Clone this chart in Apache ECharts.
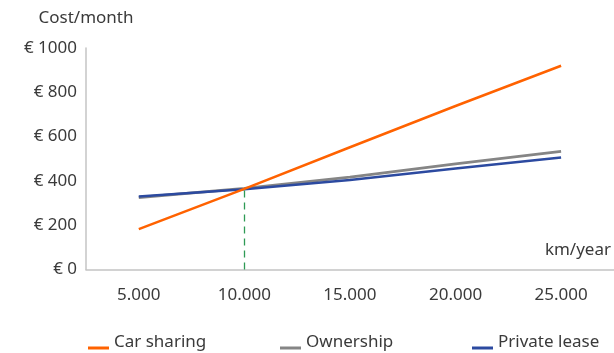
<!DOCTYPE html>
<html>
<head>
<meta charset="utf-8">
<script src="https://cdn.jsdelivr.net/npm/echarts@6/dist/echarts.min.js"></script>
<style>
html,body{margin:0;padding:0;background:#fff;}
#chart{width:614px;height:353px;}
</style>
</head>
<body>
<div id="chart"></div>
<script>
var categories = ['5.000', '10.000', '15.000', '20.000', '25.000'];
var carSharing = [182, 364, 552, 738, 920];
var ownership = [325, 366, 417, 477, 533];
var privateLease = [330, 362, 404, 456, 506];
var seriesNames = ['Car sharing', 'Ownership', 'Private lease'];
var crossoverKm = '10.000';
var crossoverCost = 365;
var yTicks = { min: 0, max: 1000, interval: 200 };

var FONT = '"Noto Sans", sans-serif';
var FS = 17;
var TXT = '#3a3a3a';
var LEG_ICON = 'path://M0,0 M0,11 L21,11 L21,14 L0,14 Z';
var legendLefts = [83, 275, 467];

function makeLegend(name, left) {
  return {
    data: [name],
    left: left,
    top: 329,
    itemWidth: 21,
    itemHeight: 14,
    itemTextGap: 13,
    icon: LEG_ICON,
    textStyle: { fontFamily: FONT, fontSize: FS, color: TXT }
  };
}

var chart = echarts.init(document.getElementById('chart'), null, { renderer: 'canvas' });
chart.setOption({
  animation: false,
  textStyle: { fontFamily: FONT },
  grid: { left: 86, right: 0, top: 48, bottom: 83.5, containLabel: false },
  legend: seriesNames.map(function (n, i) { return makeLegend(n, legendLefts[i]); }),
  xAxis: {
    type: 'category',
    data: categories,
    boundaryGap: true,
    axisLine: { lineStyle: { color: '#c4c4c4', width: 1.5 } },
    axisTick: { show: false },
    axisLabel: { fontFamily: FONT, fontSize: FS, color: TXT, margin: 17 },
    name: 'km/year',
    nameLocation: 'end',
    nameGap: -69,
    nameTextStyle: { fontFamily: FONT, fontSize: FS, color: TXT, align: 'left', verticalAlign: 'bottom', padding: [0, 0, 11, 0] }
  },
  yAxis: {
    type: 'value',
    min: yTicks.min,
    max: yTicks.max,
    interval: yTicks.interval,
    axisLine: { show: true, lineStyle: { color: '#c4c4c4', width: 1.5 } },
    axisTick: { show: false },
    splitLine: { show: false },
    axisLabel: { fontFamily: FONT, fontSize: FS, color: TXT, margin: 9, formatter: function (v) { return '€ ' + v; } },
    name: 'Cost/month',
    nameLocation: 'end',
    nameGap: 21,
    nameTextStyle: { fontFamily: FONT, fontSize: FS, color: TXT, align: 'center' }
  },
  series: [
    {
      name: seriesNames[0], type: 'line', data: carSharing, showSymbol: false, symbol: 'none', z: 5,
      color: '#ff6200', lineStyle: { color: '#ff6200', width: 2.5 },
      markLine: {
        silent: true, symbol: 'none', label: { show: false },
        lineStyle: { color: '#2e9a55', type: [7, 5], width: 1.3 },
        data: [[{ coord: [crossoverKm, 0] }, { coord: [crossoverKm, crossoverCost] }]]
      }
    },
    {
      name: seriesNames[1], type: 'line', data: ownership, showSymbol: false, symbol: 'none', z: 3,
      color: '#858585', lineStyle: { color: '#858585', width: 2.8 }
    },
    {
      name: seriesNames[2], type: 'line', data: privateLease, showSymbol: false, symbol: 'none', z: 4,
      color: '#2c4aa0', lineStyle: { color: '#2c4aa0', width: 2.5 }
    }
  ]
});
</script>
</body>
</html>
